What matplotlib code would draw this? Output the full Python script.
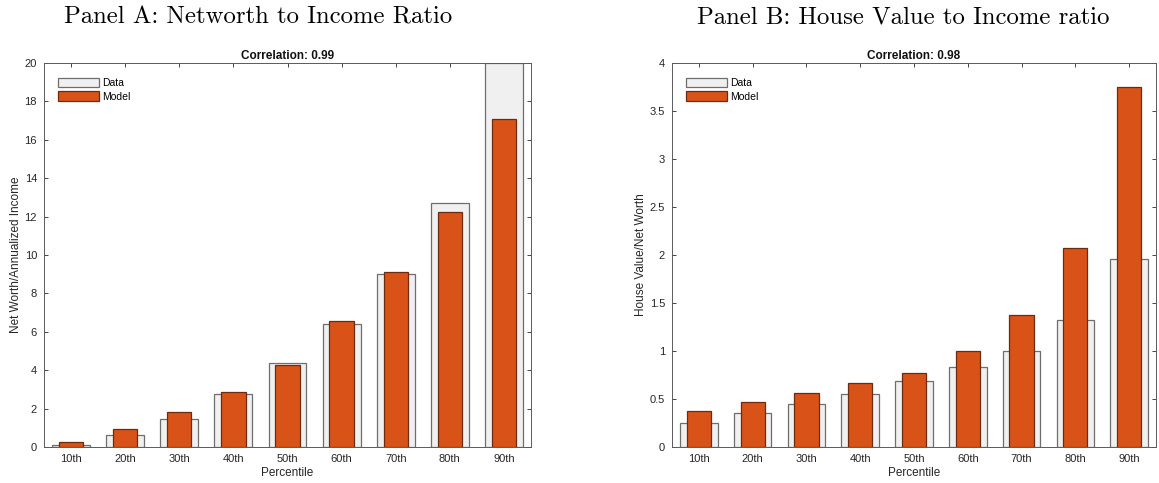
import numpy as np
import matplotlib.pyplot as plt
from matplotlib.patches import Patch

plt.rcParams['font.family'] = ['Liberation Sans', 'DejaVu Sans']

percentiles = ['10th', '20th', '30th', '40th', '50th', '60th', '70th', '80th', '90th']

# Panel A: net worth / annualized income
nw_data = [0.12, 0.65, 1.48, 2.74, 4.35, 6.42, 9.02, 12.70, 20.0]
nw_model = [0.26, 0.94, 1.80, 2.84, 4.25, 6.55, 9.10, 12.22, 17.10]

# Panel B: house value / net worth
hv_data = [0.247, 0.351, 0.452, 0.557, 0.692, 0.838, 0.995, 1.325, 1.954]
hv_model = [0.375, 0.473, 0.563, 0.668, 0.776, 1.005, 1.37, 2.075, 3.754]

data_face = '#f0f0f0'
data_edge = '#6e6e6e'
model_face = '#d95319'
model_edge = '#6e2a0c'
axis_col = '#262626'

fig = plt.figure(figsize=(11.59, 4.83), dpi=100)
W, H = 1159, 483
axA = fig.add_axes([44 / W, 1 - 447 / H, (531 - 44) / W, (447 - 63) / H])
axB = fig.add_axes([672 / W, 1 - 447 / H, (1156 - 672) / W, (447 - 63) / H])


def draw_panel(ax, data, model, ylim, yticks, ylabel, corr):
    x = np.arange(1, len(percentiles) + 1)
    ax.bar(x, data, width=0.7, color=data_face, edgecolor=data_edge,
           linewidth=0.9, zorder=2)
    ax.bar(x, model, width=0.45, color=model_face, edgecolor=model_edge,
           linewidth=0.9, zorder=3)
    ax.set_xlim(0.5, 9.5)
    ax.set_ylim(*ylim)
    ax.set_xticks(x)
    ax.set_xticklabels(percentiles)
    ax.set_yticks(yticks)
    ax.set_yticklabels(['%g' % t for t in yticks])
    ax.tick_params(direction='in', top=True, right=True, length=3,
                   width=0.6, labelsize=8, colors=axis_col, pad=5)
    for s in ax.spines.values():
        s.set_color('#5a5a5a')
        s.set_linewidth(0.7)
        s.set_zorder(4)
    ax.set_xlabel('Percentile', fontsize=8.5, color=axis_col, labelpad=2)
    ax.set_ylabel(ylabel, fontsize=8.5, color=axis_col, labelpad=2)
    ax.set_title('Correlation: %s' % corr, fontsize=8.5, fontweight='bold',
                 color='#111111', pad=3)
    handles = [Patch(facecolor=data_face, edgecolor=data_edge, linewidth=0.9),
               Patch(facecolor=model_face, edgecolor=model_edge, linewidth=0.9)]
    ax.legend(handles, ['Data', 'Model'], loc='upper left', frameon=False,
              fontsize=7.5, handlelength=3.9, handleheight=1.0,
              handletextpad=0.3, labelspacing=0.3,
              bbox_to_anchor=(0.01, 0.985))


draw_panel(axA, nw_data, nw_model, (0, 20), list(range(0, 21, 2)),
           'Net Worth/Annualized Income', '0.99')
draw_panel(axB, hv_data, hv_model, (0, 4), [0, 0.5, 1, 1.5, 2, 2.5, 3, 3.5, 4],
           'House Value/Net Worth', '0.98')

fig.text(258 / W, 1 - 17 / H, 'Panel A: Networth to Income Ratio',
         family='cmr10', fontsize=17.8, ha='center', va='center')
fig.text(903 / W, 1 - 17 / H, 'Panel B: House Value to Income ratio',
         family='cmr10', fontsize=17.8, ha='center', va='center')

fig.savefig('out.png', dpi=100)
